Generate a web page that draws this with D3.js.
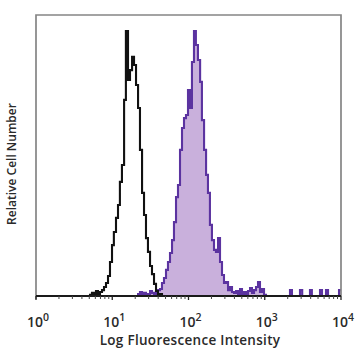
<!DOCTYPE html>
<html>
<head>
<meta charset="utf-8">
<script src="https://cdn.jsdelivr.net/npm/d3@7"></script>
<style>
  html, body { margin: 0; padding: 0; background: #fff; }
  svg { display: block; }
</style>
</head>
<body>
<div id="chart"></div>
<script>
// ---- data ----
// isotype control (black outline), fluorescence value at bin start, relative count (% of full scale)
const controlX = [4.81, 5.11, 5.42, 5.76, 6.12, 6.50, 6.91, 7.34, 7.80, 8.28, 8.80, 9.34, 9.93, 10.5, 11.2, 11.9,
  12.6, 13.4, 14.3, 15.1, 16.1, 17.1, 18.2, 19.3, 20.5, 21.8, 23.1, 24.6, 26.1, 27.7, 29.4, 31.3, 33.2, 35.3,
  37.5, 39.8, 42.3, 44.9];
const controlY = [0, 0.4, 1.1, 0.7, 1.8, 0.4, 1.4, 2.1, 3.2, 4.6, 7.1, 12.1, 18.1, 22.8, 27.8, 32.4,
  40.6, 46.6, 69.8, 94.3, 76.9, 80.4, 85.1, 82.2, 75.1, 66.9, 52.0, 36.7, 28.8, 20.6, 15.7, 10.7, 7.8, 4.3,
  1.8, 0.4, 0.7, 0];

// stained sample (purple filled)
const stainedX = [6.91, 21.8, 23.1, 24.6, 26.1, 27.7, 29.4, 31.3, 33.2, 35.3, 37.5, 39.8, 42.3, 44.9, 47.7,
  50.7, 53.8, 57.2, 60.8, 64.5, 68.6, 72.8, 77.4, 82.2, 87.3, 92.7, 98.5, 105, 111, 118, 125, 133, 142, 150,
  160, 170, 180, 191, 203, 216, 229, 244, 259, 275, 292, 310, 330, 350, 372, 395, 420, 446, 474, 503, 535,
  568, 603, 641, 680, 723, 768, 816, 866, 920, 978, 1038,
  2143, 2275, 2898, 3100, 3919, 4150, 5306, 5634, 6356, 6758, 9419, 10000];
const stainedY = [0, 0.7, 1.4, 0.4, 1.1, 0, 0.7, 1.8, 1.1, 0.4, 1.1, 2.1, 2.5, 4.6, 6.4,
  9.3, 12.1, 15.3, 19.9, 26.3, 35.2, 39.5, 52.0, 59.8, 63.3, 64.4, 73.3, 66.9, 83.3, 94.3, 89.3, 84.0, 76.2, 62.6,
  52.0, 43.1, 36.7, 25.3, 19.9, 16.4, 15.7, 20.6, 12.1, 7.5, 4.6, 5.0, 2.1, 3.2, 1.4, 1.1, 1.8, 0.7, 2.5, 0.7, 1.4,
  0.4, 1.8, 2.8, 1.1, 2.1, 3.2, 5.0, 1.4, 2.5, 0.4, 0,
  2.1, 0, 2.1, 0, 2.1, 0, 2.1, 0, 2.1, 0, 2.1, 2.1];

const xTickValues = [1, 10, 100, 1000, 10000];
const xTickExponents = ["0", "1", "2", "3", "4"];
const xTitle = "Log Fluorescence Intensity";
const yTitle = "Relative Cell Number";

// ---- layout ----
const W = 358, H = 358;
const mLeft = 36, mRight = 341, mTop = 15, mBottom = 296;
const FONT = "'Open Sans', 'Liberation Sans', Arial, sans-serif";

const svg = d3.select("#chart").append("svg").attr("width", W).attr("height", H);

const x = d3.scaleLog().domain([1, 10000]).range([mLeft, mRight]);
const y = d3.scaleLinear().domain([0, 100]).range([mBottom, mTop]);

const control = controlX.map((v, i) => [v, controlY[i]]);
const stained = stainedX.map((v, i) => [v, stainedY[i]]);

const area = d3.area().curve(d3.curveStepAfter)
  .x(d => x(d[0])).y0(y(0)).y1(d => y(d[1]));
const line = d3.line().curve(d3.curveStepAfter)
  .x(d => x(d[0])).y(d => y(d[1]));

// stained fill + outline
svg.append("path").datum(stained).attr("d", area)
  .attr("fill", "#c9b0dc").attr("stroke", "none");
svg.append("path").datum(stained).attr("d", line)
  .attr("fill", "none").attr("stroke", "#5b33a0").attr("stroke-width", 2.1);

// control outline
svg.append("path").datum(control).attr("d", line)
  .attr("fill", "none").attr("stroke", "#111").attr("stroke-width", 2.1);

// frame (left, top, right) in grey
svg.append("path")
  .attr("d", `M${mLeft},${mBottom + 3}V${mTop}H${mRight}V${mBottom}`)
  .attr("fill", "none").attr("stroke", "#858585").attr("stroke-width", 1.7);

// bottom axis
const minorTicks = [];
for (let d = 0; d < 4; d++) for (let m = 2; m <= 9; m++) minorTicks.push(m * Math.pow(10, d));
const gx = svg.append("g");
gx.append("line").attr("x1", mLeft).attr("x2", mRight).attr("y1", mBottom).attr("y2", mBottom)
  .attr("stroke", "#1a1a1a").attr("stroke-width", 1.8);
gx.selectAll("line.minor").data(minorTicks).enter().append("line").attr("class", "minor")
  .attr("x1", d => x(d)).attr("x2", d => x(d)).attr("y1", mBottom).attr("y2", mBottom + 3)
  .attr("stroke", "#444").attr("stroke-width", 1);
gx.selectAll("line.major").data(xTickValues).enter().append("line").attr("class", "major")
  .attr("x1", d => x(d)).attr("x2", d => x(d)).attr("y1", mBottom).attr("y2", mBottom + 4)
  .attr("stroke", "#222").attr("stroke-width", 1.3);

const labels = gx.selectAll("text.tick").data(xTickValues).enter().append("text").attr("class", "tick")
  .attr("x", d => x(d) + 2).attr("y", 327)
  .attr("text-anchor", "middle")
  .attr("font-family", FONT).attr("font-weight", 600)
  .attr("font-size", 14).attr("fill", "#2a2a2a");
labels.append("tspan").text("10");
labels.append("tspan").attr("dy", -6).attr("font-size", 10.5).text((d, i) => xTickExponents[i]);

svg.append("text").attr("x", 190).attr("y", 345).attr("text-anchor", "middle")
  .attr("font-family", FONT).attr("font-weight", 600)
  .attr("font-size", 13.5).attr("letter-spacing", 0.3).attr("fill", "#2a2a2a").text(xTitle);

svg.append("text").attr("transform", "translate(16,164) rotate(-90)")
  .attr("text-anchor", "middle")
  .attr("font-family", FONT).attr("font-weight", 600)
  .attr("font-size", 12).attr("fill", "#2a2a2a").text(yTitle);
</script>
</body>
</html>
